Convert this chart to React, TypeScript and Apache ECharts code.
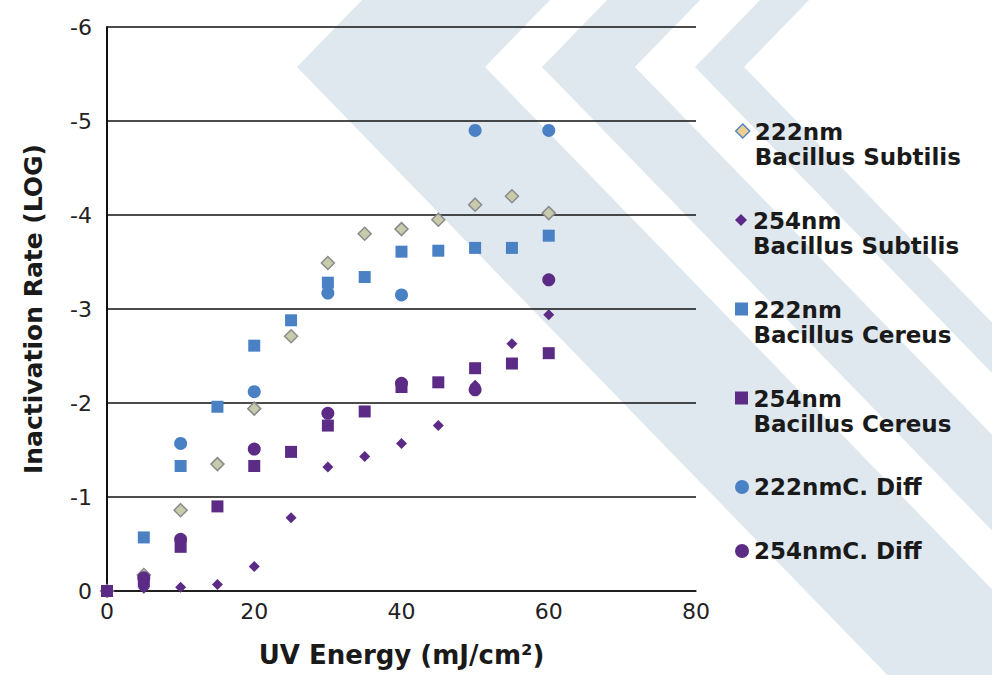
import React, { useEffect, useRef } from "react";
import * as echarts from "echarts";

const energy = [0, 5, 10, 15, 20, 25, 30, 35, 40, 45, 50, 55, 60];
const xTicks = [0, 20, 40, 60, 80];
const yTicks = [0, -1, -2, -3, -4, -5, -6];

const seriesNames = [
  "222nm\nBacillus Subtilis",
  "254nm\nBacillus Subtilis",
  "222nm\nBacillus Cereus",
  "254nm\nBacillus Cereus",
  "222nmC. Diff",
  "254nmC. Diff",
];

const subtilis222 = [0, -0.17, -0.86, -1.35, -1.94, -2.71, -3.49, -3.8, -3.85, -3.95, -4.11, -4.2, -4.02];
const subtilis254 = [0, -0.03, -0.04, -0.07, -0.26, -0.78, -1.32, -1.43, -1.57, -1.76, -2.19, -2.63, -2.94];
const cereus222 = [0, -0.57, -1.33, -1.96, -2.61, -2.88, -3.28, -3.34, -3.61, -3.62, -3.65, -3.65, -3.78];
const cereus254 = [0, -0.1, -0.47, -0.9, -1.33, -1.48, -1.76, -1.91, -2.17, -2.22, -2.37, -2.42, -2.53];
const cdiff222 = [null, null, -1.57, null, -2.12, null, -3.17, null, -3.15, null, -4.9, null, -4.9];
const cdiff254 = [null, -0.14, -0.55, null, -1.51, null, -1.89, null, -2.21, null, -2.14, null, -3.31];

const BLUE = "#4a80c4";
const PURPLE = "#5b2b86";
const FONT = "DejaVu Sans";

// legend icons: 14 x 40 boxes, shape drawn at the top (two-line entries) or middle (one-line entries)
const ICON_DIAMOND_TOP = "path://M7,0L14,7L7,14L0,7Z M7,40";
const ICON_DIAMOND_SMALL_TOP = "path://M7,0 M7,1L13,7L7,13L1,7Z M7,40";
const ICON_RECT_TOP = "path://M0.5,0.5L13.5,0.5L13.5,13.5L0.5,13.5Z M7,0 M7,40";
const ICON_CIRCLE_MID = "path://M7,0 M0,20a7,7 0 1,0 14,0a7,7 0 1,0 -14,0Z M7,40";

function pairs(vals: (number | null)[]) {
  const out: number[][] = [];
  vals.forEach((v, i) => {
    if (v !== null) out.push([energy[i], v]);
  });
  return out;
}

function chevron(outerTip: number, innerTip: number) {
  const tipY = 67;
  const k = 1.03;
  const up = tipY / k;
  const down = (675 - tipY) / k;
  return [
    [outerTip + up, 0],
    [outerTip, tipY],
    [outerTip + down, 675],
    [innerTip + down, 675],
    [innerTip, tipY],
    [innerTip + up, 0],
  ];
}

export default function App() {
  const ref = useRef<HTMLDivElement>(null);
  useEffect(() => {
    document.body.style.margin = "0";
    if (!ref.current) return;
    const chart = echarts.init(ref.current, null, { renderer: "svg" });
    const legendTextStyle = {
      fontSize: 23,
      fontWeight: "bold",
      color: "#1a1a1a",
      fontFamily: FONT,
      lineHeight: 25,
    };
    const legendItems = [
      { name: seriesNames[0], icon: ICON_DIAMOND_TOP, itemStyle: { color: "#efcf8e", borderColor: "#4f86c6", borderWidth: 1.5 } },
      { name: seriesNames[1], icon: ICON_DIAMOND_SMALL_TOP },
      { name: seriesNames[2], icon: ICON_RECT_TOP },
      { name: seriesNames[3], icon: ICON_RECT_TOP },
      { name: seriesNames[4], icon: ICON_CIRCLE_MID },
      { name: seriesNames[5], icon: ICON_CIRCLE_MID },
    ];
    const legendTops = [119, 208, 297, 386, 467, 531];
    const legends = legendItems.map((item, i) => ({
      orient: "vertical",
      left: 735,
      top: legendTops[i],
      padding: 0,
      itemWidth: 14,
      itemHeight: 40,
      textStyle: legendTextStyle,
      data: [item],
    }));
    const chevrons = [
      chevron(297, 485),
      chevron(542, 635),
      chevron(695, 744),
    ].map((pts) => ({
      type: "polygon",
      z: -10,
      silent: true,
      shape: { points: pts },
      style: { fill: "#dfe7ef" },
    }));
    chart.setOption({
      animation: false,
      backgroundColor: "#ffffff",
      graphic: { elements: chevrons },
      grid: { left: 107, right: 296, top: 27, bottom: 84, containLabel: false },
      xAxis: {
        type: "value",
        min: xTicks[0],
        max: xTicks[xTicks.length - 1],
        interval: 20,
        name: "UV Energy (mJ/cm²)",
        nameLocation: "middle",
        nameGap: 51,
        nameTextStyle: { fontSize: 26, fontWeight: "bold", color: "#1a1a1a", fontFamily: FONT },
        axisLine: { onZero: false, lineStyle: { color: "#111", width: 1.5 } },
        axisTick: { show: false },
        splitLine: { show: false },
        axisLabel: { fontSize: 22, color: "#222", fontFamily: FONT, margin: 9 },
      },
      yAxis: {
        type: "value",
        min: yTicks[yTicks.length - 1],
        max: yTicks[0],
        interval: 1,
        inverse: true,
        name: "Inactivation Rate (LOG)",
        nameLocation: "middle",
        nameGap: 61,
        nameRotate: 90,
        nameTextStyle: { fontSize: 25, fontWeight: "bold", color: "#1a1a1a", fontFamily: FONT },
        axisLine: { show: true, lineStyle: { color: "#111", width: 2 } },
        axisTick: { show: false },
        splitLine: { show: true, lineStyle: { color: "#111", width: 1.5 } },
        axisLabel: { fontSize: 22, color: "#222", fontFamily: FONT, margin: 15 },
      },
      legend: legends,
      series: [
        {
          name: seriesNames[0],
          type: "scatter",
          symbol: "diamond",
          symbolSize: 13,
          itemStyle: { color: "#c7cbab", borderColor: "#8b8b8b", borderWidth: 1.5, opacity: 1 },
          data: pairs(subtilis222),
        },
        {
          name: seriesNames[1],
          type: "scatter",
          symbol: "diamond",
          symbolSize: 11,
          itemStyle: { color: PURPLE, opacity: 1 },
          data: pairs(subtilis254),
        },
        {
          name: seriesNames[2],
          type: "scatter",
          symbol: "rect",
          symbolSize: 12,
          itemStyle: { color: BLUE, opacity: 1 },
          data: pairs(cereus222),
        },
        {
          name: seriesNames[3],
          type: "scatter",
          symbol: "rect",
          symbolSize: 12,
          itemStyle: { color: PURPLE, opacity: 1 },
          data: pairs(cereus254),
        },
        {
          name: seriesNames[4],
          type: "scatter",
          symbol: "circle",
          symbolSize: 13,
          itemStyle: { color: BLUE, opacity: 1 },
          data: pairs(cdiff222),
        },
        {
          name: seriesNames[5],
          type: "scatter",
          symbol: "circle",
          symbolSize: 13,
          itemStyle: { color: PURPLE, opacity: 1 },
          data: pairs(cdiff254),
        },
      ],
    });
    return () => chart.dispose();
  }, []);
  return <div ref={ref} style={{ width: 992, height: 675 }} />;
}
